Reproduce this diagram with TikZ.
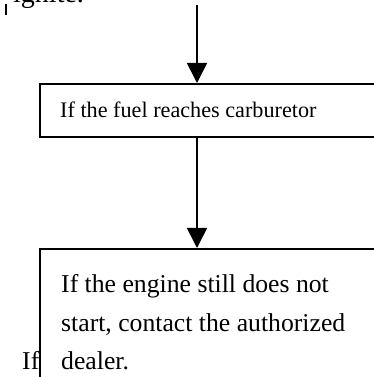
\documentclass[tikz,border=0pt]{standalone}
\usepackage{fontspec}
\setmainfont{Liberation Serif}
\usetikzlibrary{arrows.meta}
\begin{document}
\begin{tikzpicture}[x=1pt,y=1pt,
  flowbox/.style={draw, line width=1.6pt, fill=white, inner sep=0pt, anchor=north west},
  arr/.style={line width=1.6pt, -{Triangle[length=20pt,width=20pt]}},
  smalltext/.style={inner sep=0pt, anchor=base west, font=\fontsize{22.2}{26}\selectfont},
  bigtext/.style={inner sep=0pt, anchor=base west, font=\fontsize{25.7}{30}\selectfont}]
\useasboundingbox (0,0) rectangle (374,377);
\node[inner sep=0pt, anchor=base west, font=\fontsize{28}{30}\selectfont] (ign) at (13,374) {ignite.};
\coordinate (bartop) at (5.5,373);
\coordinate (barbot) at (5.5,362);
\draw[line width=2pt] (bartop) -- (barbot);
\coordinate (src) at (197,372);
\node[flowbox, minimum width=360pt, minimum height=53pt] (box1) at (39,294) {};
\node[smalltext] (t1) at (60,259.5) {If the fuel reaches carburetor};
\node[bigtext] (if) at (22,7) {If};
\node[flowbox, minimum width=360pt, minimum height=160pt] (box2) at (39,129) {};
\node[bigtext] (l1) at (61,84) {If the engine still does not};
\node[bigtext] (l2) at (61,45) {start, contact the authorized};
\node[bigtext] (l3) at (61,7) {dealer.};
\draw[arr] (src) -- (src |- box1.north);
\draw[arr] (src |- box1.south) -- (src |- box2.north);
\end{tikzpicture}
\end{document}
